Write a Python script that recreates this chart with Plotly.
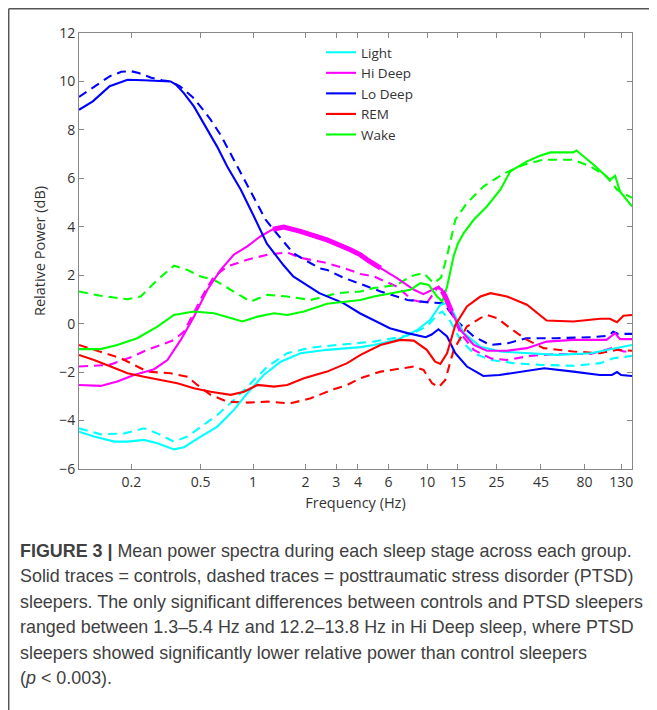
import plotly.graph_objects as go

# ---------------- data ----------------
# Light (cyan)
light_f_s = [0.1, 0.122, 0.16, 0.19, 0.236, 0.282, 0.351, 0.401, 0.5, 0.623, 0.776, 0.926, 1.15, 1.44, 1.87, 2.66, 4.14, 4.93, 6.71, 8.77, 10.4, 11.9, 13.0, 14.2, 16.2, 20.2, 26.3, 37.4, 55.5, 86.6, 123, 150]
light_v_s = [-4.46, -4.66, -4.87, -4.87, -4.8, -4.94, -5.19, -5.1, -4.66, -4.25, -3.56, -2.87, -2.12, -1.57, -1.22, -1.08, -0.97, -0.88, -0.67, -0.26, 0.16, 0.78, 0.85, 0.43, -0.39, -0.95, -1.15, -1.22, -1.29, -1.22, -1.01, -0.88]
light_f_d = [0.1, 0.133, 0.182, 0.236, 0.282, 0.351, 0.419, 0.5, 0.623, 0.776, 0.967, 1.21, 1.57, 2.14, 3.04, 4.14, 4.93, 7.67, 9.94, 11.4, 12.2, 13.6, 15.5, 18.5, 23.1, 31.3, 44.4, 69, 98.5, 117, 150]
light_v_d = [-4.32, -4.57, -4.53, -4.32, -4.53, -4.87, -4.66, -4.25, -3.77, -3.15, -2.46, -1.77, -1.22, -0.99, -0.88, -0.78, -0.74, -0.5, -0.12, 0.36, 0.5, 0.09, -0.67, -1.22, -1.5, -1.63, -1.70, -1.74, -1.63, -1.43, -1.33]

# Hi Deep (magenta)
hid_f_s = [0.1, 0.133, 0.166, 0.207, 0.27, 0.322, 0.384, 0.457, 0.546, 0.651, 0.776, 0.926, 1.1, 1.3, 1.5, 1.87, 2.66, 3.62, 4.14, 4.6, 5.4, 6.7, 8.4, 9.5, 10.7, 11.65, 12.2, 12.7, 13.8, 15.5, 18.5, 22, 28.7, 37.4, 48.5, 69, 107, 120, 128, 150]
hid_v_s = [-2.53, -2.57, -2.39, -2.12, -1.88, -1.5, -0.67, 0.29, 1.40, 2.22, 2.85, 3.19, 3.6, 3.9, 3.99, 3.81, 3.46, 3.05, 2.84, 2.6, 2.29, 1.88, 1.40, 1.22, 1.40, 1.53, 1.35, 1.12, 0.5, -0.26, -0.88, -1.12, -1.12, -1.01, -0.74, -0.67, -0.67, -0.39, -0.64, -0.64]
hid_f_d = [0.1, 0.133, 0.15, 0.203, 0.247, 0.295, 0.351, 0.401, 0.457, 0.522, 0.596, 0.711, 0.926, 1.21, 1.57, 1.87, 2.66, 3.3, 4.14, 4.93, 6.71, 8.2, 9.94, 11.4, 12.4, 13.6, 15.5, 18.5, 23.1, 28.7, 39, 55, 87, 107, 117, 134, 150]
hid_v_d = [-1.77, -1.74, -1.7, -1.36, -1.08, -0.88, -0.67, -0.33, 0.43, 1.26, 1.95, 2.36, 2.64, 2.85, 2.94, 2.72, 2.5, 2.3, 2.05, 1.95, 1.53, 0.98, 0.85, 1.47, 1.40, 0.57, -0.39, -1.08, -1.43, -1.50, -1.33, -1.25, -1.25, -1.08, -0.99, -1.15, -1.15]

# Lo Deep (blue)
lod_f_s = [0.1, 0.12, 0.15, 0.19, 0.235, 0.29, 0.336, 0.36, 0.4, 0.457, 0.52, 0.62, 0.71, 0.85, 1.0, 1.2, 1.5, 1.7, 2.4, 3.3, 4.1, 4.9, 6.1, 7.7, 9.8, 10.6, 11.6, 13.0, 14.5, 16.9, 21, 26, 36, 47, 69, 98, 115, 123, 130, 150]
lod_v_s = [8.83, 9.18, 9.8, 10.07, 10.05, 10.03, 10.0, 9.87, 9.52, 8.97, 8.28, 7.32, 6.49, 5.53, 4.5, 3.3, 2.4, 1.95, 1.26, 0.85, 0.43, 0.16, -0.19, -0.39, -0.56, -0.45, -0.23, -0.53, -1.22, -1.77, -2.16, -2.12, -1.98, -1.84, -1.98, -2.12, -2.12, -2.0, -2.12, -2.16]
lod_f_d = [0.1, 0.12, 0.15, 0.175, 0.2, 0.22, 0.26, 0.3, 0.336, 0.38, 0.45, 0.52, 0.57, 0.65, 0.74, 0.93, 1.18, 1.45, 1.7, 2.4, 2.66, 3.3, 4.0, 5.4, 7.7, 10.4, 12.4, 14.9, 18.5, 23, 29, 37, 55, 87, 110, 117, 125, 150]
lod_v_d = [9.36, 9.73, 10.21, 10.4, 10.42, 10.35, 10.15, 10.05, 10.0, 9.8, 9.35, 8.8, 8.42, 7.8, 7.04, 5.67, 4.29, 3.5, 2.91, 2.29, 2.22, 1.9, 1.67, 1.33, 0.98, 0.87, 0.85, 0.09, -0.53, -0.88, -0.81, -0.6, -0.6, -0.56, -0.5, -0.33, -0.42, -0.42]

# REM (red)
rem_f_s = [0.1, 0.122, 0.152, 0.19, 0.236, 0.294, 0.367, 0.457, 0.57, 0.743, 0.886, 1.06, 1.32, 1.57, 1.96, 2.66, 3.47, 4.14, 5.39, 7.0, 8.37, 9.94, 11.1, 11.9, 13.0, 14.5, 16.9, 20.2, 23.1, 28.7, 37.4, 48.5, 69, 98.5, 112, 123, 134, 150]
rem_v_s = [-1.29, -1.5, -1.77, -2.05, -2.19, -2.32, -2.46, -2.67, -2.81, -2.94, -2.81, -2.53, -2.6, -2.53, -2.25, -1.98, -1.63, -1.29, -0.88, -0.67, -0.7, -1.08, -1.57, -1.66, -1.22, -0.05, 0.71, 1.12, 1.26, 1.12, 0.78, 0.13, 0.09, 0.2, 0.2, 0.06, 0.33, 0.36]
rem_f_d = [0.1, 0.133, 0.174, 0.207, 0.247, 0.336, 0.419, 0.478, 0.57, 0.711, 0.926, 1.21, 1.64, 2.14, 2.9, 3.47, 4.14, 5.39, 7.0, 8.37, 9.53, 10.66, 11.65, 12.7, 14.2, 16.9, 20.2, 22.0, 25.2, 30, 37.4, 46.6, 69, 98.5, 123, 150]
rem_v_d = [-0.88, -1.15, -1.43, -1.70, -1.98, -2.05, -2.19, -2.53, -2.94, -3.22, -3.26, -3.22, -3.29, -3.08, -2.71, -2.53, -2.25, -1.98, -1.84, -1.77, -1.91, -2.46, -2.62, -2.32, -1.08, -0.12, 0.23, 0.36, 0.23, -0.19, -0.67, -1.01, -1.15, -1.22, -1.08, -1.12]

# Wake (green)
wake_f_s = [0.1, 0.133, 0.166, 0.216, 0.282, 0.351, 0.457, 0.596, 0.743, 0.867, 1.06, 1.32, 1.57, 1.96, 2.66, 3.47, 4.14, 4.93, 6.71, 8.0, 9.14, 10.2, 11.4, 12.2, 13.0, 13.6, 14.2, 15, 16.2, 18.5, 22, 26.3, 30, 37.4, 44.4, 50.9, 69, 72, 90.3, 112, 120, 128, 150]
wake_v_s = [-1.05, -1.05, -0.88, -0.6, -0.12, 0.36, 0.5, 0.43, 0.23, 0.09, 0.29, 0.43, 0.36, 0.5, 0.82, 0.91, 0.98, 1.12, 1.29, 1.40, 1.67, 1.60, 1.12, 0.91, 1.53, 2.22, 2.8, 3.3, 3.74, 4.29, 4.84, 5.53, 6.29, 6.70, 6.93, 7.07, 7.07, 7.15, 6.56, 5.94, 6.11, 5.46, 4.84]
wake_f_d = [0.1, 0.133, 0.19, 0.226, 0.282, 0.351, 0.419, 0.5, 0.596, 0.743, 0.967, 1.21, 1.57, 2.14, 3.04, 4.14, 4.93, 6.71, 8.0, 9.53, 10.9, 12.0, 13.0, 14.0, 14.5, 16.9, 21.1, 27.4, 35.8, 46.6, 69, 86.6, 107, 123, 150]
wake_v_d = [1.33, 1.15, 1.01, 1.12, 1.81, 2.39, 2.22, 1.95, 1.81, 1.40, 0.91, 1.19, 1.12, 0.98, 1.26, 1.33, 1.47, 1.60, 1.95, 2.09, 1.67, 1.9, 2.8, 3.8, 4.29, 4.98, 5.67, 6.19, 6.56, 6.77, 6.77, 6.49, 6.08, 5.53, 5.19]

# significant ranges for Hi Deep (Hz)
sig_ranges = [(1.3, 5.4), (12.2, 13.8)]

x_tickvals = [0.2, 0.5, 1, 2, 3, 4, 6, 10, 15, 25, 45, 80, 130]
x_ticktext = ["0.2", "0.5", "1", "2", "3", "4", "6", "10", "15", "25", "45", "80", "130"]
y_tickvals = [-6, -4, -2, 0, 2, 4, 6, 8, 10, 12]

caption_lines = [
    "<b>FIGURE 3 |</b> Mean power spectra during each sleep stage across each group.",
    "Solid traces = controls, dashed traces = posttraumatic stress disorder (PTSD)",
    "sleepers. The only significant differences between controls and PTSD sleepers",
    "ranged between 1.3–5.4 Hz and 12.2–13.8 Hz in Hi Deep sleep, where PTSD",
    "sleepers showed significantly lower relative power than control sleepers",
    "(<i>p</i> < 0.003).",
]

series = [
    ("Light", "#00FFFF", light_f_s, light_v_s, light_f_d, light_v_d),
    ("Hi Deep", "#FF00FF", hid_f_s, hid_v_s, hid_f_d, hid_v_d),
    ("Lo Deep", "#0000FF", lod_f_s, lod_v_s, lod_f_d, lod_v_d),
    ("REM", "#FF0000", rem_f_s, rem_v_s, rem_f_d, rem_v_d),
    ("Wake", "#00FF00", wake_f_s, wake_v_s, wake_f_d, wake_v_d),
]

# ---------------- figure ----------------
# The page body has an 8px margin, so the figure starts at page (8, 8).
OFF = 8
W, H = 657 - OFF, 710 - OFF
PL, PR, PT, PB = 79, 632, 33, 469          # plot area in page pixels
ML, MR, MT, MB = PL - OFF, W - (PR - OFF), PT - OFF, H - (PB - OFF)
PW, PH = W - ML - MR, H - MT - MB
FONT = "Open Sans, Liberation Sans, sans-serif"

def px2paper_x(px):       # page px -> paper x
    return (px - OFF - ML) / PW

def py2paper_y(py):       # page px -> paper y
    return (H - MB - (py - OFF)) / PH

fig = go.Figure()
# dashed (PTSD) traces first
for name, col, fs, vs, fd, vd in series:
    fig.add_trace(go.Scatter(x=fd, y=vd, mode="lines", name=name + " (PTSD)",
                             line=dict(color=col, width=2.1, dash="9px,6px"),
                             showlegend=False, hoverinfo="skip"))
for name, col, fs, vs, fd, vd in series:
    fig.add_trace(go.Scatter(x=fs, y=vs, mode="lines", name=name,
                             line=dict(color=col, width=2.1), showlegend=True))

# significance highlight on Hi Deep solid
for lo, hi in sig_ranges:
    xs = [f for f in hid_f_s if lo <= f <= hi]
    ys = [v for f, v in zip(hid_f_s, hid_v_s) if lo <= f <= hi]
    fig.add_trace(go.Scatter(x=xs, y=ys, mode="lines", line=dict(color="#FF00FF", width=5),
                             showlegend=False, hoverinfo="skip"))

# outer frame (top and left lines)
fig.add_shape(type="line", xref="paper", yref="paper",
              x0=px2paper_x(8.7), x1=px2paper_x(660), y0=py2paper_y(8.7), y1=py2paper_y(8.7),
              line=dict(color="#555555", width=1.5))
fig.add_shape(type="line", xref="paper", yref="paper",
              x0=px2paper_x(8.7), x1=px2paper_x(8.7), y0=py2paper_y(8.7), y1=py2paper_y(715),
              line=dict(color="#555555", width=1.5))

cap_y = [551, 576.4, 601.8, 627.2, 652.6, 678]
for txt, py in zip(caption_lines, cap_y):
    fig.add_annotation(text=txt, xref="paper", yref="paper", x=px2paper_x(18), y=py2paper_y(py),
                       xanchor="left", yanchor="middle", showarrow=False,
                       font=dict(family="Liberation Sans, Arial, sans-serif", size=17.9, color="#404040"))

axis_common = dict(showline=True, linecolor="#888888", linewidth=1, mirror="ticks",
                   ticks="inside", ticklen=5, tickcolor="#888888", showgrid=False, zeroline=False,
                   tickfont=dict(family=FONT, size=14, color="#333333"))

fig.update_layout(
    width=W, height=H,
    margin=dict(l=ML, r=MR, t=MT, b=MB, autoexpand=False),
    paper_bgcolor="white", plot_bgcolor="white",
    xaxis=dict(type="log", range=[-1, 2.1761], tickvals=x_tickvals, ticktext=x_ticktext,
               title=dict(text="Frequency (Hz)", font=dict(family=FONT, size=14.5, color="#333333"), standoff=8),
               **axis_common),
    yaxis=dict(range=[-6, 12], tickvals=y_tickvals,
               title=dict(text="Relative Power (dB)", font=dict(family=FONT, size=14.5, color="#333333"), standoff=10),
               **axis_common),
    legend=dict(x=px2paper_x(321), y=py2paper_y(37), xanchor="left", yanchor="top",
                bgcolor="rgba(0,0,0,0)", borderwidth=0,
                font=dict(family=FONT, size=13.5, color="#333333"), tracegroupgap=0),
    showlegend=True,
)

fig.write_html("out.html")
